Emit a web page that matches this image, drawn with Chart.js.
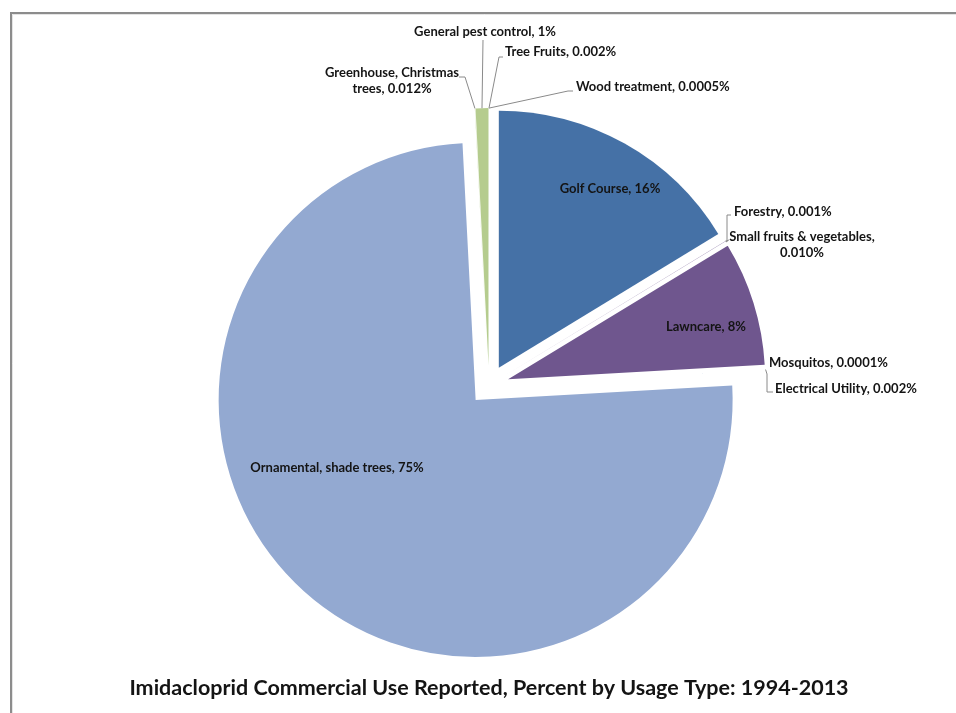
<!DOCTYPE html>
<html>
<head>
<meta charset="utf-8">
<script src="https://cdn.jsdelivr.net/npm/chart.js@4.4.1/dist/chart.umd.min.js"></script>
<style>
  html, body { margin: 0; padding: 0; background: #fff; }
  #wrap { position: relative; width: 956px; height: 713px; }
</style>
</head>
<body>
<div id="wrap"><canvas id="pie" width="956" height="713"></canvas></div>
<script>
// Slices in clockwise order starting at 12 o'clock
const categories = [
  'Golf Course', 'Forestry', 'Small fruits & vegetables', 'Lawncare',
  'Mosquitos', 'Electrical Utility', 'Ornamental, shade trees',
  'Greenhouse, Christmas trees', 'General pest control', 'Tree Fruits', 'Wood treatment'
];
const usagePct = [16.3, 0.001, 0.010, 7.8, 0.0001, 0.002, 75.1, 0.012, 0.8, 0.002, 0.0005];
const pctLabels = ['16%', '0.001%', '0.010%', '8%', '0.0001%', '0.002%', '75%', '0.012%', '1%', '0.002%', '0.0005%'];
const sliceColors = ['#4571a6', '#4571a6', '#6f568e', '#6f568e', '#6f568e', '#93a9d1', '#93a9d1', '#b5cc8e', '#b5cc8e', '#b5cc8e', '#4571a6'];

const explode = 20;
const fontFamily = 'Lato, "Liberation Sans", sans-serif';

// label placement: lines of text, anchor point, alignment, leader route (text end -> elbow(s))
const labelLayout = [
  { inside: true, x: 610, y: 189, lines: ['Golf Course, 16%'] },
  { x: 734, y: 212, align: 'left', lines: ['Forestry, 0.001%'], leader: [[731, 215], [727, 215], [727, 242]] },
  { x: 802, y: 237, align: 'center', lines: ['Small fruits & vegetables,', '0.010%'], leader: [[729, 240]] },
  { inside: true, x: 706, y: 327, lines: ['Lawncare, 8%'] },
  { x: 769, y: 363, align: 'left', lines: ['Mosquitos, 0.0001%'], leader: null },
  { x: 775, y: 389, align: 'left', lines: ['Electrical Utility, 0.002%'], leader: [[773, 392], [767, 392], [767, 374]] },
  { inside: true, x: 337, y: 468, lines: ['Ornamental, shade trees, 75%'] },
  { x: 392, y: 73, align: 'center', lines: ['Greenhouse, Christmas', 'trees, 0.012%'], leader: [[459, 77], [465, 77]] },
  { x: 485, y: 32, align: 'center', lines: ['General pest control, 1%'], leader: [[483, 40]] },
  { x: 505, y: 52, align: 'left', lines: ['Tree Fruits, 0.002%'], leader: [[503, 57], [499, 57]] },
  { x: 576, y: 87, align: 'left', lines: ['Wood treatment, 0.0005%'], leader: [[573, 91], [568, 91]] }
];

const piePlugin = {
  id: 'explodedPie',
  beforeDraw(chart) {
    const ctx = chart.ctx;
    ctx.save();
    ctx.strokeStyle = '#8c8c8c';
    ctx.lineWidth = 2;
    ctx.beginPath();
    ctx.moveTo(11, 713);
    ctx.lineTo(11, 13);
    ctx.lineTo(956, 13);
    ctx.stroke();
    ctx.strokeStyle = '#e4e4e4';
    ctx.lineWidth = 1;
    ctx.beginPath();
    ctx.moveTo(12.5, 713);
    ctx.lineTo(12.5, 14.5);
    ctx.lineTo(956, 14.5);
    ctx.stroke();
    ctx.restore();
  },
  beforeDatasetDraw(chart, args) {
    // pull each slice out along its mid angle by the same distance
    const ctx = chart.ctx;
    args.meta.data.forEach(arc => {
      const mid = (arc.startAngle + arc.endAngle) / 2;
      ctx.save();
      ctx.translate(Math.cos(mid) * explode, Math.sin(mid) * explode);
      arc.draw(ctx);
      ctx.restore();
    });
    return false;
  },
  afterDatasetsDraw(chart) {
    const ctx = chart.ctx;
    const arcs = chart.getDatasetMeta(0).data;
    ctx.save();
    ctx.font = 'bold 13px ' + fontFamily;
    ctx.fillStyle = '#141414';
    ctx.textBaseline = 'middle';
    labelLayout.forEach((lab, i) => {
      const arc = arcs[i];
      if (lab.leader) {
        const mid = (arc.startAngle + arc.endAngle) / 2;
        const r = arc.outerRadius + explode;
        const ax = arc.x + Math.cos(mid) * r;
        const ay = arc.y + Math.sin(mid) * r;
        ctx.strokeStyle = '#8a8a8a';
        ctx.lineWidth = 1;
        ctx.beginPath();
        lab.leader.forEach((p, k) => k === 0 ? ctx.moveTo(p[0], p[1]) : ctx.lineTo(p[0], p[1]));
        ctx.lineTo(ax, ay);
        ctx.stroke();
      }
      ctx.textAlign = lab.inside ? 'center' : lab.align;
      lab.lines.forEach((t, k) => ctx.fillText(t, lab.x, lab.y + k * 16));
    });
    ctx.restore();
  }
};

new Chart(document.getElementById('pie'), {
  type: 'pie',
  data: {
    labels: categories,
    datasets: [{
      data: usagePct,
      backgroundColor: sliceColors,
      borderWidth: 0
    }]
  },
  options: {
    responsive: false,
    animation: false,
    radius: 257,
    layout: { padding: { left: 62, right: 40, top: 95, bottom: 0 } },
    plugins: {
      legend: { display: false },
      tooltip: { enabled: false },
      title: {
        display: true,
        position: 'bottom',
        text: 'Imidacloprid Commercial Use Reported, Percent by Usage Type: 1994-2013',
        color: '#141414',
        font: { family: fontFamily, size: 21.5, weight: 'bold' },
        padding: { top: 0, bottom: 12 }
      }
    }
  },
  plugins: [piePlugin]
});
</script>
</body>
</html>
